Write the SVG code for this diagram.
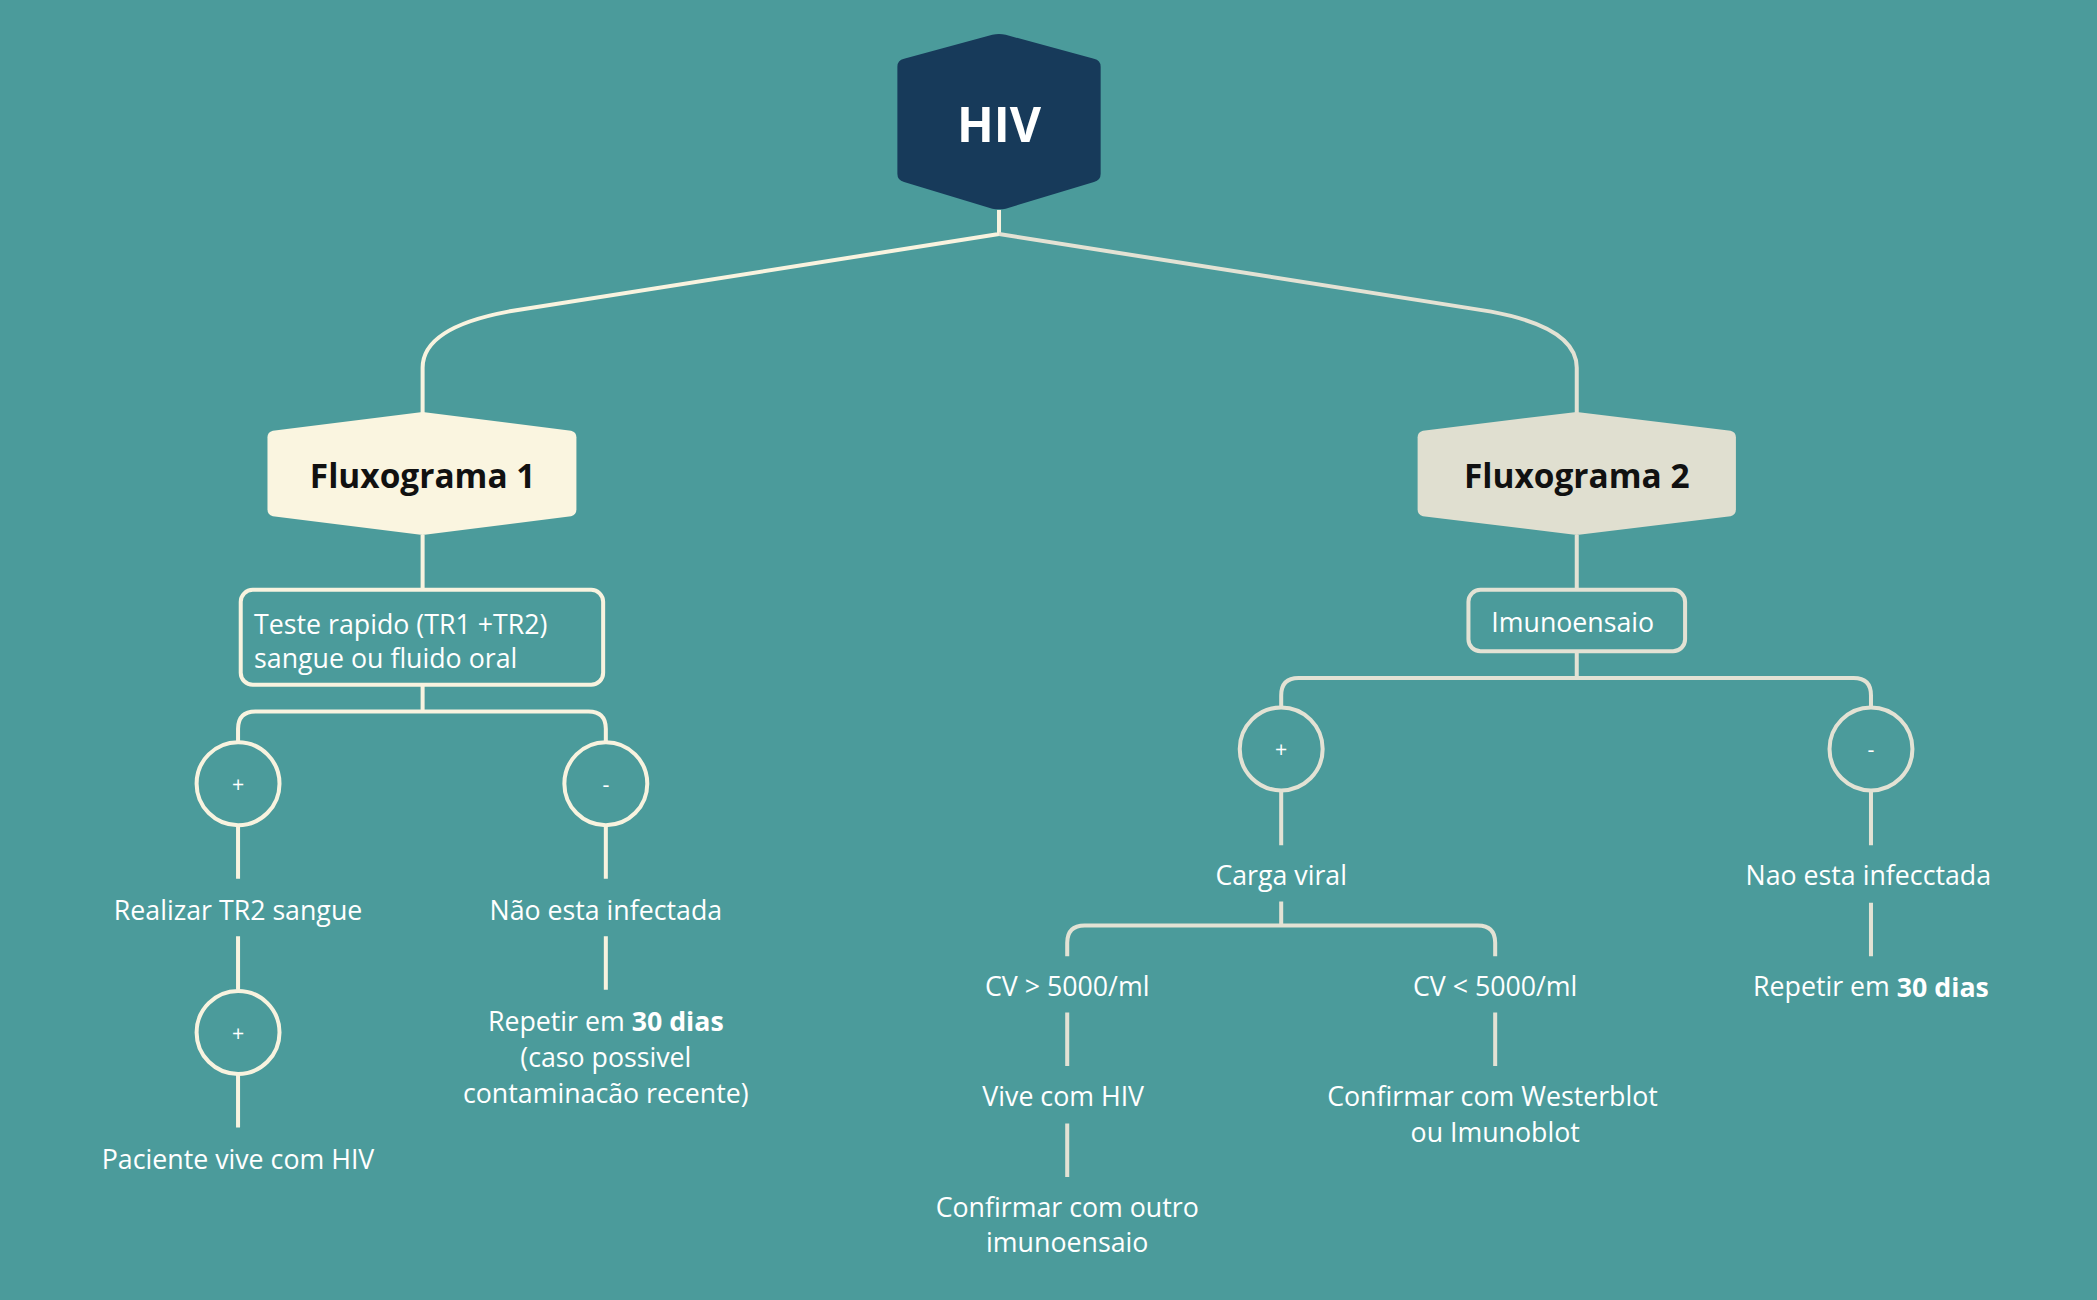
<svg xmlns="http://www.w3.org/2000/svg" width="2097" height="1300" viewBox="0 0 2097 1300">
<style>
.t{font-family:"Open Sans","Liberation Sans",sans-serif;font-size:20px;fill:#fff;text-anchor:middle;dominant-baseline:central}
.l{fill:none;stroke:#F8F3DF;stroke-width:3;stroke-linejoin:round}
.r{fill:none;stroke:#E3E2D4;stroke-width:3;stroke-linejoin:round}
.c{font-size:16px}
</style>
<rect width="2097" height="1300" fill="#4B9B9B"/>
<g transform="scale(1.33737)">
<g id="connectors">
<path class="l" d="M747,157 L747,175 L380,233 Q316,245 316,275 L316,310"/>
<path class="r" d="M747,175 L1115,233 Q1179,245 1179,275 L1179,310"/>
<path class="l" d="M316,400 V441 M316,512 V532 M178,555 V545 Q178,532 191,532 H440 Q453,532 453,545 V555 M178,617 V657 M178,700 V740 M178,803 V843 M453,617 V657 M453,700 V740"/>
<path class="r" d="M1179,400 V441 M1179,487 V507 M958,529 V520 Q958,507 971,507 H1386 Q1399,507 1399,520 V529 M958,591 V632 M958,674 V692 M798,715 V705 Q798,692 811,692 H1105 Q1118,692 1118,705 V715 M798,757 V797 M798,840 V880 M1118,757 V797 M1399,591 V632 M1399,675 V715"/>
</g>
<g id="hiv"><path d="M671,50 Q671,45 676,44 L742,26 Q747,25 752,26 L818,44 Q823,45 823,50 L823,130 Q823,135 818,136 L752,156 Q747,157 742,156 L676,136 Q671,135 671,130 Z" fill="#173A5A"/><text class="t" x="747" y="92" style="font-size:36px;font-weight:bold">HIV</text></g>
<g id="f1"><path d="M204,322 L316,308 L427,322 Q431,323 431,327 L431,381 Q431,385 427,386 L316,400 L204,386 Q200,385 200,381 L200,327 Q200,323 204,322 Z" fill="#FAF5E0"/><text class="t" x="316" y="355" style="font-size:25px;font-weight:bold;fill:#111">Fluxograma 1</text></g>
<g id="f2"><path d="M1064,322 L1179,308 L1294,322 Q1298,323 1298,327 L1298,381 Q1298,385 1294,386 L1179,400 L1064,386 Q1060,385 1060,381 L1060,327 Q1060,323 1064,322 Z" fill="#E0DFD0"/><text class="t" x="1179" y="355" style="font-size:25px;font-weight:bold;fill:#111">Fluxograma 2</text></g>
<g id="teste"><rect x="180" y="441" width="271" height="71" rx="9" class="l"/><text class="t" x="190" y="466" style="text-anchor:start">Teste rapido (TR1 +TR2)</text><text class="t" x="190" y="492" style="text-anchor:start">sangue ou fluido oral</text></g>
<g id="p1"><circle cx="178" cy="586" r="31" class="l"/><text class="t c" x="178" y="586">+</text></g>
<g id="m1"><circle cx="453" cy="586" r="31" class="l"/><text class="t c" x="453" y="586">-</text></g>
<g id="tr2"><text class="t" x="178" y="680">Realizar TR2 sangue</text></g>
<g id="p2"><circle cx="178" cy="772" r="31" class="l"/><text class="t c" x="178" y="772">+</text></g>
<g id="pv"><text class="t" x="178" y="866">Paciente vive com HIV</text></g>
<g id="ni"><text class="t" x="453" y="680">Não esta infectada</text></g>
<g id="rep1"><text class="t" x="453" y="763">Repetir em <tspan font-weight="bold">30 dias</tspan></text><text class="t" x="453" y="790">(caso possivel</text><text class="t" x="453" y="817">contaminacão recente)</text></g>
<g id="imu"><rect x="1098" y="441" width="162" height="46" rx="9" class="r"/><text class="t" x="1176" y="465">Imunoensaio</text></g>
<g id="p3"><circle cx="958" cy="560" r="31" class="r"/><text class="t c" x="958" y="560">+</text></g>
<g id="m3"><circle cx="1399" cy="560" r="31" class="r"/><text class="t c" x="1399" y="560">-</text></g>
<g id="cv"><text class="t" x="958" y="654">Carga viral</text></g>
<g id="cvg"><text class="t" x="798" y="737">CV &gt; 5000/ml</text></g>
<g id="cvl"><text class="t" x="1118" y="737">CV &lt; 5000/ml</text></g>
<g id="vive"><text class="t" x="795" y="819">Vive com HIV</text></g>
<g id="conf1"><text class="t" x="798" y="902">Confirmar com outro</text><text class="t" x="798" y="928">imunoensaio</text></g>
<g id="conf2"><text class="t" x="1116" y="819">Confirmar com Westerblot</text><text class="t" x="1118" y="846">ou Imunoblot</text></g>
<g id="nao2"><text class="t" x="1397" y="654">Nao esta infecctada</text></g>
<g id="rep2"><text class="t" x="1399" y="737">Repetir em <tspan font-weight="bold">30 dias</tspan></text></g>
</g>
</svg>
